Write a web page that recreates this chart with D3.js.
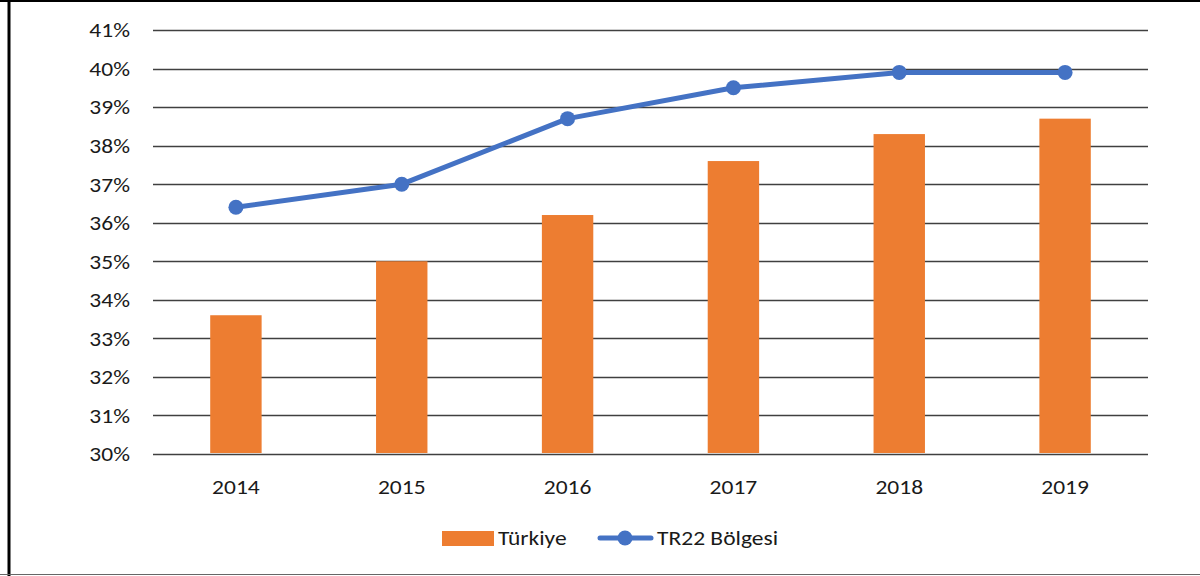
<!DOCTYPE html>
<html lang="tr">
<head>
<meta charset="UTF-8">
<title>Türkiye - TR22</title>
<script src="https://d3js.org/d3.v7.min.js"></script>
<style>
    body { margin: 0; background: #fff; }
    svg text { font-family: Carlito, Calibri, "Open Sans", sans-serif; fill: #1a1a1a; font-size: 21px; }
</style>
</head>
<body>
<svg id="chart" width="1200" height="576"></svg>
<script>
    // data
    const years = ["2014", "2015", "2016", "2017", "2018", "2019"];
    const turkiye = [33.6, 35.0, 36.2, 37.6, 38.3, 38.7];
    const tr22 = [36.4, 37.0, 38.7, 39.5, 39.9, 39.9];
    const yTicks = [30, 31, 32, 33, 34, 35, 36, 37, 38, 39, 40, 41];

    const svg = d3.select("#chart");
    const sx = 1.12; // text is a bit wider than tall in the picture
    const place = (px, py) => `translate(${px},${py}) scale(${sx},1)`;

    // outer frame
    svg.append("line").attr("x1", 9).attr("y1", 0).attr("x2", 9).attr("y2", 576)
        .attr("stroke", "#000").attr("stroke-width", 3);
    svg.append("line").attr("x1", 0).attr("y1", 1).attr("x2", 1200).attr("y2", 1)
        .attr("stroke", "#000").attr("stroke-width", 2);
    svg.append("line").attr("x1", 0).attr("y1", 574.5).attr("x2", 1200).attr("y2", 574.5)
        .attr("stroke", "#666").attr("stroke-width", 1);

    const plotLeft = 153, plotRight = 1148, plotTop = 30, plotBottom = 454;

    const x = d3.scaleBand().domain(years).range([plotLeft, plotRight]).paddingInner(0.69).paddingOuter(0.345);
    const xc = d => x(d) + x.bandwidth() / 2;
    const y = d3.scaleLinear().domain([30, 41]).range([plotBottom, plotTop]);

    // gridlines
    svg.append("g").selectAll("line").data(yTicks).join("line")
        .attr("x1", plotLeft).attr("x2", plotRight)
        .attr("y1", d => Math.round(y(d)) + 0.5).attr("y2", d => Math.round(y(d)) + 0.5)
        .attr("stroke", "#404040").attr("stroke-width", 1.3);

    // y labels
    svg.append("g").selectAll("text").data(yTicks).join("text")
        .attr("transform", d => place(130, y(d))).attr("dy", "0.35em")
        .attr("text-anchor", "end")
        .text(d => d + "%");

    // bars
    svg.append("g").selectAll("rect").data(turkiye).join("rect")
        .attr("x", (d, i) => x(years[i]))
        .attr("width", x.bandwidth())
        .attr("y", d => y(d))
        .attr("height", d => y(30) - y(d) - 1)
        .attr("fill", "#ED7D31");

    // x labels
    svg.append("g").selectAll("text").data(years).join("text")
        .attr("transform", d => place(xc(d), 487)).attr("dy", "0.35em")
        .attr("text-anchor", "middle")
        .text(d => d);

    // line
    const line = d3.line()
        .x((d, i) => xc(years[i]))
        .y(d => y(d));
    svg.append("path").datum(tr22)
        .attr("d", line)
        .attr("fill", "none").attr("stroke", "#4472C4").attr("stroke-width", 5)
        .attr("stroke-linejoin", "round").attr("stroke-linecap", "round");
    svg.append("g").selectAll("circle").data(tr22).join("circle")
        .attr("cx", (d, i) => xc(years[i])).attr("cy", d => y(d)).attr("r", 7.5)
        .attr("fill", "#4472C4");

    // legend
    const lg = svg.append("g");
    lg.append("rect").attr("x", 442).attr("y", 531).attr("width", 52).attr("height", 15).attr("fill", "#ED7D31");
    lg.append("text").attr("transform", place(498, 538)).attr("dy", "0.35em").text("Türkiye");
    lg.append("line").attr("x1", 600).attr("x2", 651).attr("y1", 538).attr("y2", 538)
        .attr("stroke", "#4472C4").attr("stroke-width", 5).attr("stroke-linecap", "round");
    lg.append("circle").attr("cx", 625).attr("cy", 538).attr("r", 7.5).attr("fill", "#4472C4");
    lg.append("text").attr("transform", place(657, 538)).attr("dy", "0.35em").text("TR22 Bölgesi");
</script>
</body>
</html>
